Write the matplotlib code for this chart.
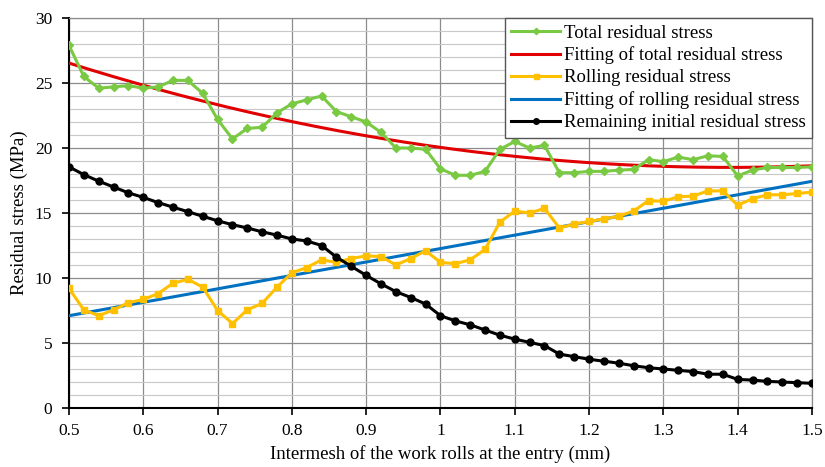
#residual stress vs intermesh of the work rolls

#import packages
import numpy as np
import matplotlib
matplotlib.use('Agg')
import matplotlib.pyplot as plt
from matplotlib.ticker import MultipleLocator

plt.rcParams['font.family'] = ['Liberation Serif', 'DejaVu Serif']

#data, x every 0.02 mm
intermesh = np.round(np.arange(0.5, 1.5001, 0.02), 2)

total_stress = [27.9, 25.5, 24.6, 24.7, 24.8, 24.6, 24.7, 25.2, 25.2, 24.2,
                22.2, 20.7, 21.5, 21.6, 22.7, 23.4, 23.7, 24.0, 22.8, 22.4,
                22.0, 21.2, 20.0, 20.0, 19.9, 18.4, 17.9, 17.9, 18.2, 19.9,
                20.5, 20.0, 20.2, 18.1, 18.1, 18.2, 18.2, 18.3, 18.35, 19.1,
                18.95, 19.3, 19.1, 19.4, 19.35, 17.85, 18.3, 18.5, 18.5, 18.5,
                18.55]

rolling_stress = [9.2, 7.55, 7.1, 7.55, 8.1, 8.35, 8.8, 9.6, 9.9, 9.3,
                  7.5, 6.5, 7.55, 8.05, 9.3, 10.4, 10.8, 11.4, 11.2, 11.5,
                  11.7, 11.65, 11.0, 11.5, 12.1, 11.2, 11.1, 11.4, 12.2, 14.3,
                  15.15, 15.0, 15.35, 13.85, 14.15, 14.35, 14.55, 14.75, 15.15, 15.95,
                  15.9, 16.25, 16.3, 16.7, 16.7, 15.6, 16.1, 16.4, 16.4, 16.5,
                  16.6]

remaining_stress = [18.55, 17.95, 17.45, 17.0, 16.55, 16.2, 15.8, 15.45, 15.1, 14.75,
                    14.4, 14.1, 13.85, 13.55, 13.3, 13.0, 12.85, 12.5, 11.6, 10.9,
                    10.2, 9.55, 8.95, 8.5, 8.0, 7.1, 6.7, 6.4, 6.0, 5.6,
                    5.3, 5.05, 4.8, 4.15, 3.95, 3.75, 3.6, 3.45, 3.25, 3.1,
                    3.0, 2.9, 2.8, 2.6, 2.6, 2.2, 2.15, 2.05, 2.0, 1.95,
                    1.9]

#trend lines (polynomial fits of the plotted series, like excel does)
x_fit = np.linspace(0.5, 1.5, 200)
total_fit = np.polyval(np.polyfit(intermesh, total_stress, 2), x_fit)
rolling_fit = np.polyval(np.polyfit(intermesh, rolling_stress, 2), x_fit)

# Plotting
fig = plt.figure(figsize=(8.25, 4.67), dpi=100)
ax = fig.add_axes([0.0836, 0.1263, 0.9006, 0.8352])

ax.plot(intermesh, total_stress, color='#7AC943', lw=2.2, marker='D', ms=4,
        label='Total residual stress', zorder=4)
ax.plot(x_fit, total_fit, color='#E00000', lw=2.2,
        label='Fitting of total residual stress', zorder=3)
ax.plot(intermesh, rolling_stress, color='#FFC000', lw=2.2, marker='s', ms=4.5,
        label='Rolling residual stress', zorder=4)
ax.plot(x_fit, rolling_fit, color='#0070C0', lw=2.2,
        label='Fitting of rolling residual stress', zorder=3)
ax.plot(intermesh, remaining_stress, color='black', lw=2.2, marker='o', ms=5,
        label='Remaining initial residual stress', zorder=4)

ax.set_xlim(0.5, 1.5)
ax.set_ylim(0, 30)
ax.xaxis.set_major_locator(MultipleLocator(0.1))
ax.yaxis.set_major_locator(MultipleLocator(5))
ax.yaxis.set_minor_locator(MultipleLocator(1))
ax.set_xticks(np.arange(0.5, 1.51, 0.1))
ax.set_xticklabels(['0.5', '0.6', '0.7', '0.8', '0.9', '1', '1.1', '1.2', '1.3', '1.4', '1.5'])

ax.grid(which='major', color='#8C8C8C', lw=0.9)
ax.grid(which='minor', axis='y', color='#C8C8C8', lw=0.8)
ax.set_axisbelow(True)

ax.tick_params(which='major', direction='out', length=5, width=1.2, labelsize=12.5)
ax.tick_params(which='minor', length=0)
ax.tick_params(axis='x', pad=6)
ax.tick_params(axis='y', pad=7)

for side in ['top', 'right']:
    ax.spines[side].set_color('#8C8C8C')
    ax.spines[side].set_linewidth(0.9)
for side in ['left', 'bottom']:
    ax.spines[side].set_color('black')
    ax.spines[side].set_linewidth(1.5)

ax.set_xlabel('Intermesh of the work rolls at the entry (mm)', fontsize=13.5, labelpad=4)
ax.set_ylabel('Residual stress (MPa)', fontsize=13.5, labelpad=5)

leg = ax.legend(loc='upper right', bbox_to_anchor=(1.0, 1.0), fontsize=13.5,
                frameon=True, fancybox=False, edgecolor='#555555', framealpha=1,
                handlelength=2.6, handletextpad=0.2, labelspacing=0.26,
                borderpad=0.35, borderaxespad=0.0, markerscale=0.8)
leg.get_frame().set_linewidth(1.0)
leg.set_zorder(10)

plt.savefig('out.png', dpi=100)
